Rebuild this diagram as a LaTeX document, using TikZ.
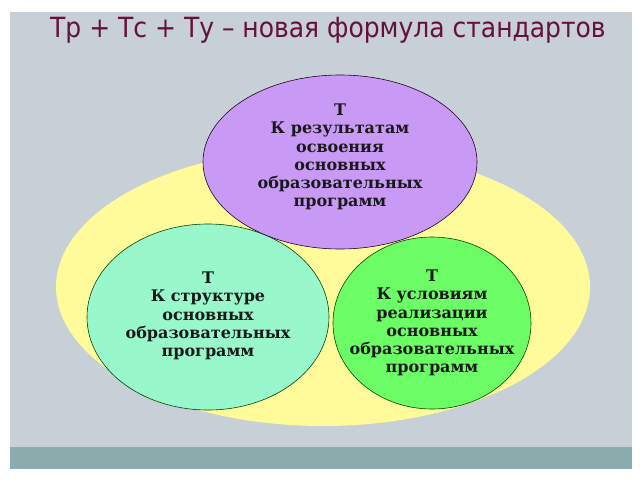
\documentclass[tikz,border=0pt]{standalone}
\usepackage{fontspec}
\setmainfont{Liberation Serif}
\newfontfamily\lblfont{DejaVu Serif}
\newfontfamily\titlefont{DejaVu Sans Condensed}
\definecolor{panel}{HTML}{C6D0D6}
\definecolor{band}{HTML}{8AACAC}
\definecolor{yel}{HTML}{FFFB9A}
\definecolor{vio}{HTML}{C89AF5}
\definecolor{teal}{HTML}{99F7CC}
\definecolor{grn}{HTML}{6CFC66}
\definecolor{titlec}{HTML}{66103C}
\begin{document}
\begin{tikzpicture}[x=1pt,y=-1pt,
  lbl/.style={align=center,font=\lblfont\bfseries\fontsize{16}{18.2}\selectfont,text=black!90}]
\useasboundingbox (0,0) rectangle (640,480);
\fill[white] (0,0) rectangle (640,480);
\fill[panel] (10,12) rectangle (632,469);
\fill[band] (10,447) rectangle (632,469);
\node[font=\titlefont\fontsize{27.8}{30}\selectfont,text=titlec] (title) at (328,30) {Тр + Тс + Ту – новая формула стандартов};
\fill[yel] (323,287) ellipse [x radius=267, y radius=139];
\coordinate (yc) at (323,287);
\fill[teal] (208,317) ellipse [x radius=121, y radius=93];
\draw[black!60!green!70!black,line width=0.6pt] (208,317) ellipse [x radius=121, y radius=93];
\fill[grn] (432,323) ellipse [x radius=99, y radius=86];
\draw[black!60!green!70!black,line width=0.6pt] (432,323) ellipse [x radius=99, y radius=86];
\fill[vio] (340,162) ellipse [x radius=137, y radius=87];
\draw[black!60!violet!70!black,line width=0.6pt] (340,162) ellipse [x radius=137, y radius=87];
\node[lbl] (res) at (340,157) {Т\\К результатам\\освоения\\основных\\образовательных\\программ};
\node[lbl] (str) at (208,316) {Т\\К структуре\\основных\\образовательных\\программ};
\node[lbl] (usl) at (432,323) {Т\\К условиям\\реализации\\основных\\образовательных\\программ};
\end{tikzpicture}
\end{document}
